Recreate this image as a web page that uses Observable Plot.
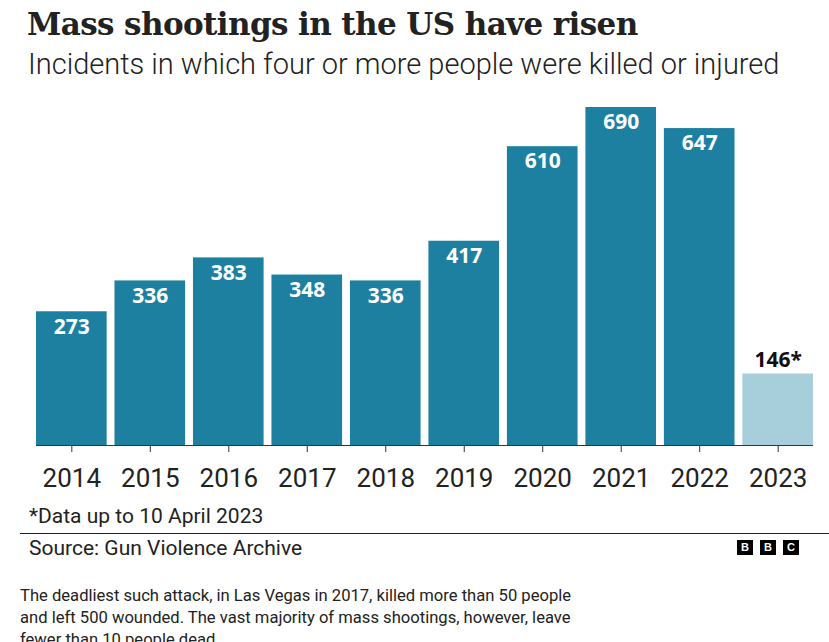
<!DOCTYPE html>
<html><head><meta charset="utf-8">
<script src="https://cdn.jsdelivr.net/npm/d3@7"></script>
<script src="https://cdn.jsdelivr.net/npm/@observablehq/plot@0.6"></script>
<style>
body{margin:0;background:#fff;color:#222;}
#wrap{width:829px;height:642px;position:relative;overflow:hidden;}
.t{position:absolute;white-space:nowrap;margin:0;}
#title{left:27px;top:2px;font:bold 31px/44px "DejaVu Serif",serif;color:#222;letter-spacing:-0.6px}
#sub{left:28px;top:45px;font:300 29px/38px Roboto,sans-serif;color:#222;}
#chart{position:absolute;left:0;top:95px;}
#note{left:29px;top:502px;font:400 21px/28px Roboto,sans-serif;}
#rule{position:absolute;left:20px;top:533px;width:809px;height:0;border-top:1.5px solid #222;}
#src{left:29px;top:534px;font:400 21px/28px Roboto,sans-serif;}
#logo{position:absolute;left:737px;top:540px;display:flex;gap:7px;}
#logo span{display:block;width:16px;height:15px;background:#000;color:#fff;font:bold 11px/15px "Liberation Sans",Arial,sans-serif;text-align:center;}
#para{left:20px;top:585px;font:400 16.6px/22px Roboto,sans-serif;color:#222;}
</style>
</head><body>
<div id="wrap">
<div class="t" id="title">Mass shootings in the US have risen</div>
<div class="t" id="sub">Incidents in which four or more people were killed or injured</div>
<div id="chart"></div>
<div class="t" id="note">*Data up to 10 April 2023</div>
<div id="rule"></div>
<div class="t" id="src">Source: Gun Violence Archive</div>
<div id="logo"><span>B</span><span>B</span><span>C</span></div>
<div class="t" id="para">The deadliest such attack, in Las Vegas in 2017, killed more than 50 people<br>and left 500 wounded. The vast majority of mass shootings, however, leave<br>fewer than 10 people dead.</div>
</div>
<script>
const years = ["2014","2015","2016","2017","2018","2019","2020","2021","2022","2023"];
const counts = [273,336,383,348,336,417,610,690,647,146];
const labels = ["273","336","383","348","336","417","610","690","647","146*"];
const partialYears = ["2023"];

const data = years.map((year,i)=>({year, count: counts[i], label: labels[i], partial: partialYears.includes(year)}));
const dark = "#1d80a1", light = "#a7cedb";

const chart = Plot.plot({
  width: 829,
  height: 400,
  marginLeft: 36,
  marginRight: 16,
  marginTop: 12,
  marginBottom: 50,
  x: {domain: years, paddingInner: 0.1, paddingOuter: 0, round: false, axis: null, label: null},
  y: {domain: [0, 690], axis: null},
  style: {fontFamily: "Roboto, sans-serif", background: "white"},
  marks: [
    Plot.barY(data, {filter: d => !d.partial, x: "year", y: "count", fill: dark}),
    Plot.barY(data, {filter: d => d.partial, x: "year", y: "count", fill: light}),
    Plot.ruleY([0], {stroke: "#333", strokeWidth: 1}),
    Plot.axisX({tickSize: 7, tickPadding: 16, fontSize: 26, stroke: "#333", fill: "#222", fontFamily: "Roboto, sans-serif", label: null}),
    Plot.text(data, {filter: d => !d.partial, x: "year", y: "count", text: "label", dy: 15, fill: "white", fontWeight: "bold", fontSize: 21, fontFamily: "Noto Sans, sans-serif"}),
    Plot.text(data, {filter: d => d.partial, x: "year", y: "count", text: "label", dy: -14, fill: "#111", fontWeight: "bold", fontSize: 21, fontFamily: "Noto Sans, sans-serif"})
  ]
});
document.getElementById("chart").appendChild(chart);
</script>
</body></html>
